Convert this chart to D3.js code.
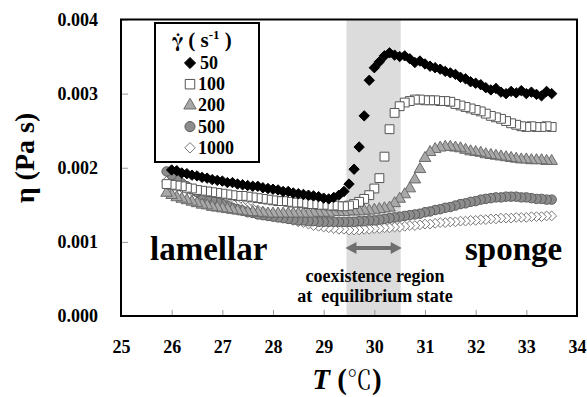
<!DOCTYPE html>
<html><head><meta charset="utf-8">
<script src="https://cdn.jsdelivr.net/npm/d3@7"></script>
<style>
html,body{margin:0;padding:0;background:#fff;}
svg{display:block;}
</style></head>
<body>
<svg id="chart" width="587" height="397"></svg>
<script>
// ---- data ----
const temperature = [25.9,26.0,26.1,26.2,26.3,26.4,26.5,26.6,26.7,26.8,26.9,27.0,27.1,27.2,27.3,27.4,27.5,27.6,27.7,27.8,27.9,
  28.0,28.1,28.2,28.3,28.4,28.5,28.6,28.7,28.8,28.9,29.0,29.1,29.2,29.3,29.4,29.5,29.6,29.7,29.8,29.9,
  30.0,30.1,30.2,30.3,30.4,30.5,30.6,30.7,30.8,30.9,31.0,31.1,31.2,31.3,31.4,31.5,31.6,31.7,31.8,31.9,
  32.0,32.1,32.2,32.3,32.4,32.5,32.6,32.7,32.8,32.9,33.0,33.1,33.2,33.3,33.4,33.5];

const eta50 = [null,0.00197,0.00196,0.00193,0.00192,0.00190,0.00189,0.00187,0.00186,0.00184,0.00183,0.00182,0.00180,0.00180,0.00178,0.00177,0.00176,0.00175,0.00175,0.00173,0.00172,
  0.00171,0.00170,0.00168,0.00168,0.00166,0.00165,0.00164,0.00163,0.00162,0.00161,0.00159,0.00158,0.00160,0.00163,0.00168,0.00178,0.00198,0.00228,0.00270,0.00318,
  0.00335,0.00343,0.00351,0.00355,0.00352,0.00350,0.00351,0.00347,0.00342,0.00344,0.00340,0.00337,0.00335,0.00333,0.00330,0.00328,0.00326,0.00322,0.00320,0.00316,
  0.00314,0.00312,0.00308,0.00305,0.00307,0.00302,0.00300,0.00303,0.00301,0.00304,0.00300,0.00302,0.00299,0.00297,0.00303,0.00300];

const eta100 = [0.00178,0.00177,0.00176,0.00175,0.00173,0.00172,0.00170,0.00169,0.00168,0.00167,0.00166,0.00165,0.00164,0.00163,0.00162,0.00162,0.00161,0.00160,0.00159,0.00158,0.00157,
  0.00156,0.00155,0.00155,0.00154,0.00153,0.00153,0.00152,0.00151,0.00151,0.00150,0.00150,0.00149,0.00149,0.00148,0.00148,0.00149,0.00151,0.00154,0.00158,0.00163,
  0.00172,0.00186,0.00215,0.00252,0.00274,0.00283,0.00288,0.00290,0.00292,0.00292,0.00291,0.00291,0.00291,0.00290,0.00290,0.00289,0.00286,0.00284,0.00282,0.00280,
  0.00278,0.00276,0.00273,0.00270,0.00268,0.00266,0.00263,0.00260,0.00258,0.00256,0.00255,0.00256,0.00255,0.00255,0.00256,0.00255];

const eta200 = [0.00166,0.00163,0.00160,0.00158,0.00156,0.00154,0.00152,0.00150,0.00149,0.00147,0.00146,0.00145,0.00144,0.00143,0.00142,0.00141,0.00140,0.00140,0.00139,0.00139,0.00138,
  0.00138,0.00138,0.00138,0.00138,0.00138,0.00138,0.00138,0.00138,0.00139,0.00139,0.00139,0.00139,0.00140,0.00140,0.00140,0.00141,0.00141,0.00141,0.00142,0.00142,
  0.00143,0.00144,0.00145,0.00146,0.00152,0.00158,0.00164,0.00172,0.00184,0.00198,0.00213,0.00221,0.00225,0.00227,0.00228,0.00228,0.00227,0.00226,0.00224,0.00222,
  0.00221,0.00220,0.00218,0.00217,0.00216,0.00215,0.00214,0.00213,0.00212,0.00211,0.00211,0.00210,0.00210,0.00210,0.00209,0.00209];

const eta500 = [0.00195,0.00190,0.00184,0.00179,0.00175,0.00171,0.00167,0.00163,0.00160,0.00157,0.00154,0.00151,0.00149,0.00146,0.00144,0.00142,0.00140,0.00139,0.00137,0.00136,0.00135,
  0.00134,0.00133,0.00132,0.00131,0.00130,0.00129,0.00129,0.00128,0.00128,0.00127,0.00127,0.00127,0.00127,0.00127,0.00127,0.00127,0.00127,0.00128,0.00128,0.00129,
  0.00129,0.00130,0.00131,0.00132,0.00133,0.00134,0.00135,0.00136,0.00137,0.00138,0.00140,0.00141,0.00143,0.00144,0.00146,0.00147,0.00149,0.00151,0.00152,0.00154,
  0.00155,0.00157,0.00158,0.00159,0.00160,0.00160,0.00161,0.00161,0.00161,0.00160,0.00160,0.00159,0.00158,0.00158,0.00157,0.00157];

const eta1000 = [0.00182,0.00179,0.00176,0.00173,0.00171,0.00168,0.00166,0.00164,0.00162,0.00160,0.00158,0.00156,0.00154,0.00152,0.00150,0.00148,0.00147,0.00145,0.00143,0.00141,0.00139,
  0.00137,0.00135,0.00133,0.00131,0.00129,0.00127,0.00126,0.00124,0.00122,0.00121,0.00120,0.00119,0.00118,0.00117,0.00117,0.00116,0.00116,0.00116,0.00117,0.00117,
  0.00118,0.00118,0.00119,0.00119,0.00120,0.00120,0.00121,0.00122,0.00122,0.00123,0.00124,0.00124,0.00125,0.00126,0.00126,0.00127,0.00127,0.00128,0.00128,0.00129,
  0.00129,0.00130,0.00130,0.00131,0.00131,0.00132,0.00132,0.00132,0.00133,0.00133,0.00133,0.00134,0.00134,0.00134,0.00135,0.00135];

const shearRates = ["50","100","200","500","1000"];
const xTicks = [25,26,27,28,29,30,31,32,33,34];
const yTicks = [0.000,0.001,0.002,0.003,0.004];
const coexistence = [29.45,30.52];

// ---- layout ----
const SERIF = "Liberation Serif, Tinos, Times New Roman, serif";
const svg = d3.select("#chart");
const L = 121, R = 577, T = 19.5, B = 316;
const x = d3.scaleLinear().domain([25,34]).range([L,R]);
const y = d3.scaleLinear().domain([0,0.004]).range([B,T]);

// coexistence band
svg.append("rect").attr("x",x(coexistence[0])).attr("y",T)
  .attr("width",x(coexistence[1])-x(coexistence[0])).attr("height",B-T)
  .attr("fill","#dcdcdc");

// axes
const gx = svg.append("g").attr("transform",`translate(0,${B})`)
  .call(d3.axisBottom(x).tickValues(xTicks).tickFormat(d3.format("d")).tickSize(-6).tickPadding(24));
const gy = svg.append("g").attr("transform",`translate(${L},0)`)
  .call(d3.axisLeft(y).tickValues(yTicks).tickFormat(d3.format(".3f")).tickSize(-7).tickPadding(23));
[gx,gy].forEach(g=>{
  g.attr("font-family",SERIF).attr("font-size",18).attr("font-weight","bold");
  g.select(".domain").remove();
  g.selectAll(".tick line").attr("stroke","#999").attr("stroke-width",1);
  g.selectAll(".tick text").attr("fill","#000");
});

// custom square-diamond symbol
const symDiamond = {draw(ctx,size){const r=Math.sqrt(size/2);ctx.moveTo(0,-r);ctx.lineTo(r,0);ctx.lineTo(0,r);ctx.lineTo(-r,0);ctx.closePath();}};

// series styles
const styles = {
  "50":  {sym:symDiamond, size:54, fill:"#000", stroke:"#000", sw:1},
  "100": {sym:d3.symbolSquare, size:78, fill:"#fff", stroke:"#555", sw:1},
  "200": {sym:d3.symbolTriangle, size:58, fill:"#a8a8a8", stroke:"#6a6a6a", sw:1},
  "500": {sym:d3.symbolCircle, size:70, fill:"#8c8c8c", stroke:"#5a5a5a", sw:1},
  "1000":{sym:symDiamond, size:48, fill:"#fff", stroke:"#777", sw:1}
};
const seriesVals = {"50":eta50,"100":eta100,"200":eta200,"500":eta500,"1000":eta1000};

const plot = svg.append("g");
["1000","500","200","100","50"].forEach(k=>{
  const st = styles[k];
  const pts = temperature.map((t,i)=>({t, v:seriesVals[k][i]})).filter(d=>d.v!=null).reverse();
  plot.append("g").selectAll("path").data(pts).join("path")
    .attr("transform",d=>`translate(${x(d.t)},${y(d.v)})`)
    .attr("d",d3.symbol().type(st.sym).size(st.size))
    .attr("fill",st.fill).attr("stroke",st.stroke).attr("stroke-width",st.sw);
});

// frame
svg.append("rect").attr("x",L).attr("y",T).attr("width",R-L).attr("height",B-T)
  .attr("fill","none").attr("stroke","#000").attr("stroke-width",2);

// helper for bold serif text
function txt(parent, xx, yy, size, s, anchor){
  return parent.append("text").attr("x",xx).attr("y",yy).attr("font-family",SERIF)
    .attr("font-weight","bold").attr("font-size",size).attr("text-anchor",anchor||"start").text(s);
}

// legend
const lg = svg.append("g");
lg.append("rect").attr("x",155).attr("y",23).attr("width",104).attr("height",139)
  .attr("fill","#fff").attr("stroke","#000").attr("stroke-width",2);
const title = lg.append("text").attr("x",172).attr("y",47).attr("font-family",SERIF)
  .attr("font-weight","bold").attr("font-size",21);
title.append("tspan").attr("font-family","FreeSerif, Liberation Serif, serif").text("γ̇");
title.append("tspan").text(" ( s");
title.append("tspan").attr("dy",-8).attr("font-size",13).text("-1");
title.append("tspan").attr("dy",8).text(" )");
shearRates.forEach((k,i)=>{
  const cy = 63 + i*21.2;
  const st = styles[k];
  lg.append("path").attr("transform",`translate(190,${cy})`)
    .attr("d",d3.symbol().type(st.sym).size(st.size*1.15))
    .attr("fill",st.fill).attr("stroke",st.stroke).attr("stroke-width",st.sw);
  txt(lg, k==="50"?200:198, cy+6, 18, k);
});

// axis titles
svg.append("text").attr("transform","translate(34,158) rotate(-90)").attr("text-anchor","middle")
  .attr("font-family",SERIF).attr("font-weight","bold").attr("font-size",28).text("η (Pa s)");
const xt = svg.append("text").attr("x",347).attr("y",389).attr("text-anchor","middle")
  .attr("font-family",SERIF).attr("font-weight","bold").attr("font-size",29);
xt.append("tspan").attr("font-style","italic").text("T");
xt.append("tspan").text(" (");
xt.append("tspan").attr("font-family","Noto Serif CJK SC, Noto Sans CJK SC, serif").attr("font-weight","normal").attr("font-size",25).text("℃");
xt.append("tspan").text(")");

// annotations
txt(svg,150,260,33,"lamellar");
txt(svg,465,260,33,"sponge");
txt(svg,375,282,18,"coexistence region","middle");
txt(svg,375,302,18,"at  equilibrium state","middle").style("white-space","pre");

// double arrow
const ax0 = x(29.45)-1, ax1 = x(30.52)+1, ay = 248;
const arrowColor = "#6e6e6e";
svg.append("line").attr("x1",ax0+8).attr("x2",ax1-8).attr("y1",ay).attr("y2",ay)
  .attr("stroke",arrowColor).attr("stroke-width",4);
svg.append("path").attr("d",`M${ax0},${ay} L${ax0+11},${ay-6} L${ax0+11},${ay+6} Z`).attr("fill",arrowColor);
svg.append("path").attr("d",`M${ax1},${ay} L${ax1-11},${ay-6} L${ax1-11},${ay+6} Z`).attr("fill",arrowColor);
</script>
</body></html>
